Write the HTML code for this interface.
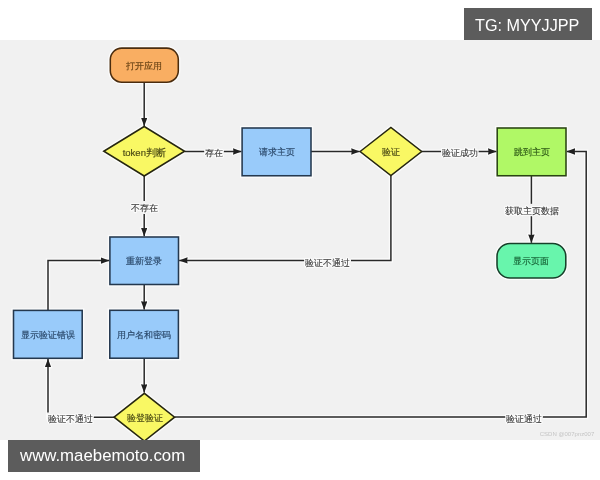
<!DOCTYPE html>
<html><head><meta charset="utf-8">
<style>
html,body{margin:0;padding:0;width:600px;height:480px;overflow:hidden;background:#fff;}
body{position:relative;font-family:"Liberation Sans",sans-serif;}
svg{position:absolute;left:0;top:0;will-change:transform;}
</style></head>
<body>
<svg width="600" height="480" viewBox="0 0 600 480">
<defs>
<marker id="ah" viewBox="0 0 8.6 6.4" refX="8.4" refY="3.2" markerWidth="8.6" markerHeight="6.4" markerUnits="userSpaceOnUse" orient="auto">
<path d="M0,0 L8.6,3.2 L0,6.4 L0.5,3.2 Z" fill="#202020"/>
</marker>
<marker id="ahh" viewBox="-2 -2 12.6 10.4" refX="8.4" refY="3.2" markerWidth="12.6" markerHeight="10.4" markerUnits="userSpaceOnUse" orient="auto">
<path d="M0,0 L8.6,3.2 L0,6.4 L0.9,3.2 Z" fill="#fff" stroke="#fff" stroke-width="2.4" stroke-linejoin="round"/>
</marker>
</defs>
<rect x="0" y="40" width="600" height="400" fill="#f1f1f1"/>
<!-- node halo -->
<g stroke-width="4.2" opacity="0.75" fill="none" stroke="#fff">
<rect x="110.3" y="48.1" width="68" height="34.1" rx="11.5"/>
<path d="M103.8,151.25 L144.2,126.5 L184.6,151.25 L144.2,176 Z" stroke-linejoin="miter"/>
<rect x="242.1" y="128" width="68.9" height="47.75"/>
<path d="M360.1,151.5 L390.9,127.4 L421.7,151.5 L390.9,175.5 Z"/>
<rect x="497.2" y="128" width="68.8" height="47.75"/>
<rect x="497" y="243.5" width="68.8" height="34.5" rx="13"/>
<rect x="109.9" y="237" width="68.6" height="47.5"/>
<rect x="109.8" y="310.3" width="68.6" height="47.9"/>
<rect x="13.5" y="310.4" width="68.7" height="47.9"/>
<path d="M114.1,417.2 L144.35,393.3 L174.6,417.2 L144.35,441 Z"/>
</g>
<g fill="none" stroke="#fff" stroke-width="4.2" opacity="0.75">
<path d="M144.2,82.2 V126" marker-end="url(#ahh)"/>
<path d="M184.6,151.5 H241.4" marker-end="url(#ahh)"/>
<path d="M311,151.5 H359.6" marker-end="url(#ahh)"/>
<path d="M421.7,151.5 H496.4" marker-end="url(#ahh)"/>
<path d="M531.4,175.8 V242.8" marker-end="url(#ahh)"/>
<path d="M144.2,176 V236.2" marker-end="url(#ahh)"/>
<path d="M390.9,175.5 V260.4 H179.2" marker-end="url(#ahh)"/>
<path d="M144.2,284.5 V309.6" marker-end="url(#ahh)"/>
<path d="M144.2,358.2 V392.6" marker-end="url(#ahh)"/>
<path d="M114.1,417.3 H48 V359" marker-end="url(#ahh)"/>
<path d="M48,310.4 V260.6 H109.1" marker-end="url(#ahh)"/>
<path d="M174.6,417.1 H586.2 V151.5 H566.8" marker-end="url(#ahh)"/>
</g>
<g fill="none" stroke="#282828" stroke-width="1.5">
<path d="M144.2,82.2 V126" marker-end="url(#ah)"/>
<path d="M184.6,151.5 H241.4" marker-end="url(#ah)"/>
<path d="M311,151.5 H359.6" marker-end="url(#ah)"/>
<path d="M421.7,151.5 H496.4" marker-end="url(#ah)"/>
<path d="M531.4,175.8 V242.8" marker-end="url(#ah)"/>
<path d="M144.2,176 V236.2" marker-end="url(#ah)"/>
<path d="M390.9,175.5 V260.4 H179.2" marker-end="url(#ah)"/>
<path d="M144.2,284.5 V309.6" marker-end="url(#ah)"/>
<path d="M144.2,358.2 V392.6" marker-end="url(#ah)"/>
<path d="M114.1,417.3 H48 V359" marker-end="url(#ah)"/>
<path d="M48,310.4 V260.6 H109.1" marker-end="url(#ah)"/>
<path d="M174.6,417.1 H586.2 V151.5 H566.8" marker-end="url(#ah)"/>
</g>
<!-- label backgrounds -->
<g fill="#f1f1f1">
<rect x="204.2" y="146" width="19.6" height="12"/>
<rect x="441" y="146" width="37.4" height="12"/>
<rect x="504.5" y="203.8" width="55" height="12.4"/>
<rect x="130.5" y="201" width="28" height="13"/>
<rect x="304.3" y="256" width="46.7" height="12"/>
<rect x="47" y="412.5" width="46.7" height="12"/>
<rect x="505.5" y="412.5" width="37.3" height="12"/>
</g>
<g font-family="Liberation Sans, sans-serif" font-size="9" fill="#fff" stroke="#fff" stroke-width="2.4" stroke-linejoin="round" opacity="0.8" text-anchor="middle">
<text x="214" y="155.6">存在</text>
<text x="459.7" y="155.6">验证成功</text>
<text x="532" y="213.9">获取主页数据</text>
<text x="144.6" y="211.4">不存在</text>
<text x="327.6" y="265.6">验证不通过</text>
<text x="70.2" y="421.7">验证不通过</text>
<text x="524.2" y="421.6">验证通过</text>
</g>
<g font-family="Liberation Sans, sans-serif" font-size="9" fill="#363636" stroke="#363636" stroke-width="0.1" text-anchor="middle">
<text x="214" y="155.6">存在</text>
<text x="459.7" y="155.6">验证成功</text>
<text x="532" y="213.9">获取主页数据</text>
<text x="144.6" y="211.4">不存在</text>
<text x="327.6" y="265.6">验证不通过</text>
<text x="70.2" y="421.7">验证不通过</text>
<text x="524.2" y="421.6">验证通过</text>
</g>

<!-- nodes -->
<g stroke-width="1.55">
<rect x="110.3" y="48.1" width="68" height="34.1" rx="11.5" fill="#f9ae62" stroke="#4a2c0e"/>
<path d="M103.8,151.25 L144.2,126.5 L184.6,151.25 L144.2,176 Z" fill="#f9f864" stroke="#262610" stroke-linejoin="miter"/>
<rect x="242.1" y="128" width="68.9" height="47.75" fill="#99cbfa" stroke="#24384e"/>
<path d="M360.1,151.5 L390.9,127.4 L421.7,151.5 L390.9,175.5 Z" fill="#f9f864" stroke="#262610"/>
<rect x="497.2" y="128" width="68.8" height="47.75" fill="#b0f866" stroke="#2a4412"/>
<rect x="497" y="243.5" width="68.8" height="34.5" rx="13" fill="#68f5ac" stroke="#17402a"/>
<rect x="109.9" y="237" width="68.6" height="47.5" fill="#99cbfa" stroke="#24384e"/>
<rect x="109.8" y="310.3" width="68.6" height="47.9" fill="#99cbfa" stroke="#24384e"/>
<rect x="13.5" y="310.4" width="68.7" height="47.9" fill="#99cbfa" stroke="#24384e"/>
<path d="M114.1,417.2 L144.35,393.3 L174.6,417.2 L144.35,441 Z" fill="#f9f864" stroke="#262610"/>
</g>
<g font-family="Liberation Sans, sans-serif" font-size="9" text-anchor="middle" stroke-width="0.16" class="nt">
<text x="144.3" y="69.4" fill="#6a4416" stroke="#6a4416">打开应用</text>
<text x="144.3" y="155.7" font-size="9.5" fill="#4a4a14" stroke="#4a4a14">token判断</text>
<text x="276.6" y="155.2" fill="#2c4a6c" stroke="#2c4a6c">请求主页</text>
<text x="391" y="155.4" fill="#4a4a14" stroke="#4a4a14">验证</text>
<text x="531.6" y="155.2" fill="#2e5a16" stroke="#2e5a16">跳到主页</text>
<text x="531.4" y="264" fill="#1a6a3c" stroke="#1a6a3c">显示页面</text>
<text x="144.2" y="264.2" fill="#2c4a6c" stroke="#2c4a6c">重新登录</text>
<text x="144.3" y="338.1" fill="#2c4a6c" stroke="#2c4a6c">用户名和密码</text>
<text x="47.8" y="338" fill="#2c4a6c" stroke="#2c4a6c">显示验证错误</text>
<text x="144.5" y="421.4" fill="#4a4a14" stroke="#4a4a14">验登验证</text>
</g>
<text x="567" y="436" font-family="Liberation Sans, sans-serif" font-size="6" fill="#c4c4c4" text-anchor="middle">CSDN @007pnz007</text>
<rect x="464" y="8" width="128" height="32" fill="#5c5c5c"/>
<text x="475" y="31" font-family="Liberation Sans, sans-serif" font-size="16.8" fill="#fff" textLength="104.4" lengthAdjust="spacingAndGlyphs">TG: MYYJJPP</text>
<rect x="8" y="440" width="192" height="32" fill="#5c5c5c"/>
<text x="20" y="461.2" font-family="Liberation Sans, sans-serif" font-size="16.8" fill="#fff" textLength="165.2" lengthAdjust="spacingAndGlyphs">www.maebemoto.com</text>
</svg>
</body></html>
